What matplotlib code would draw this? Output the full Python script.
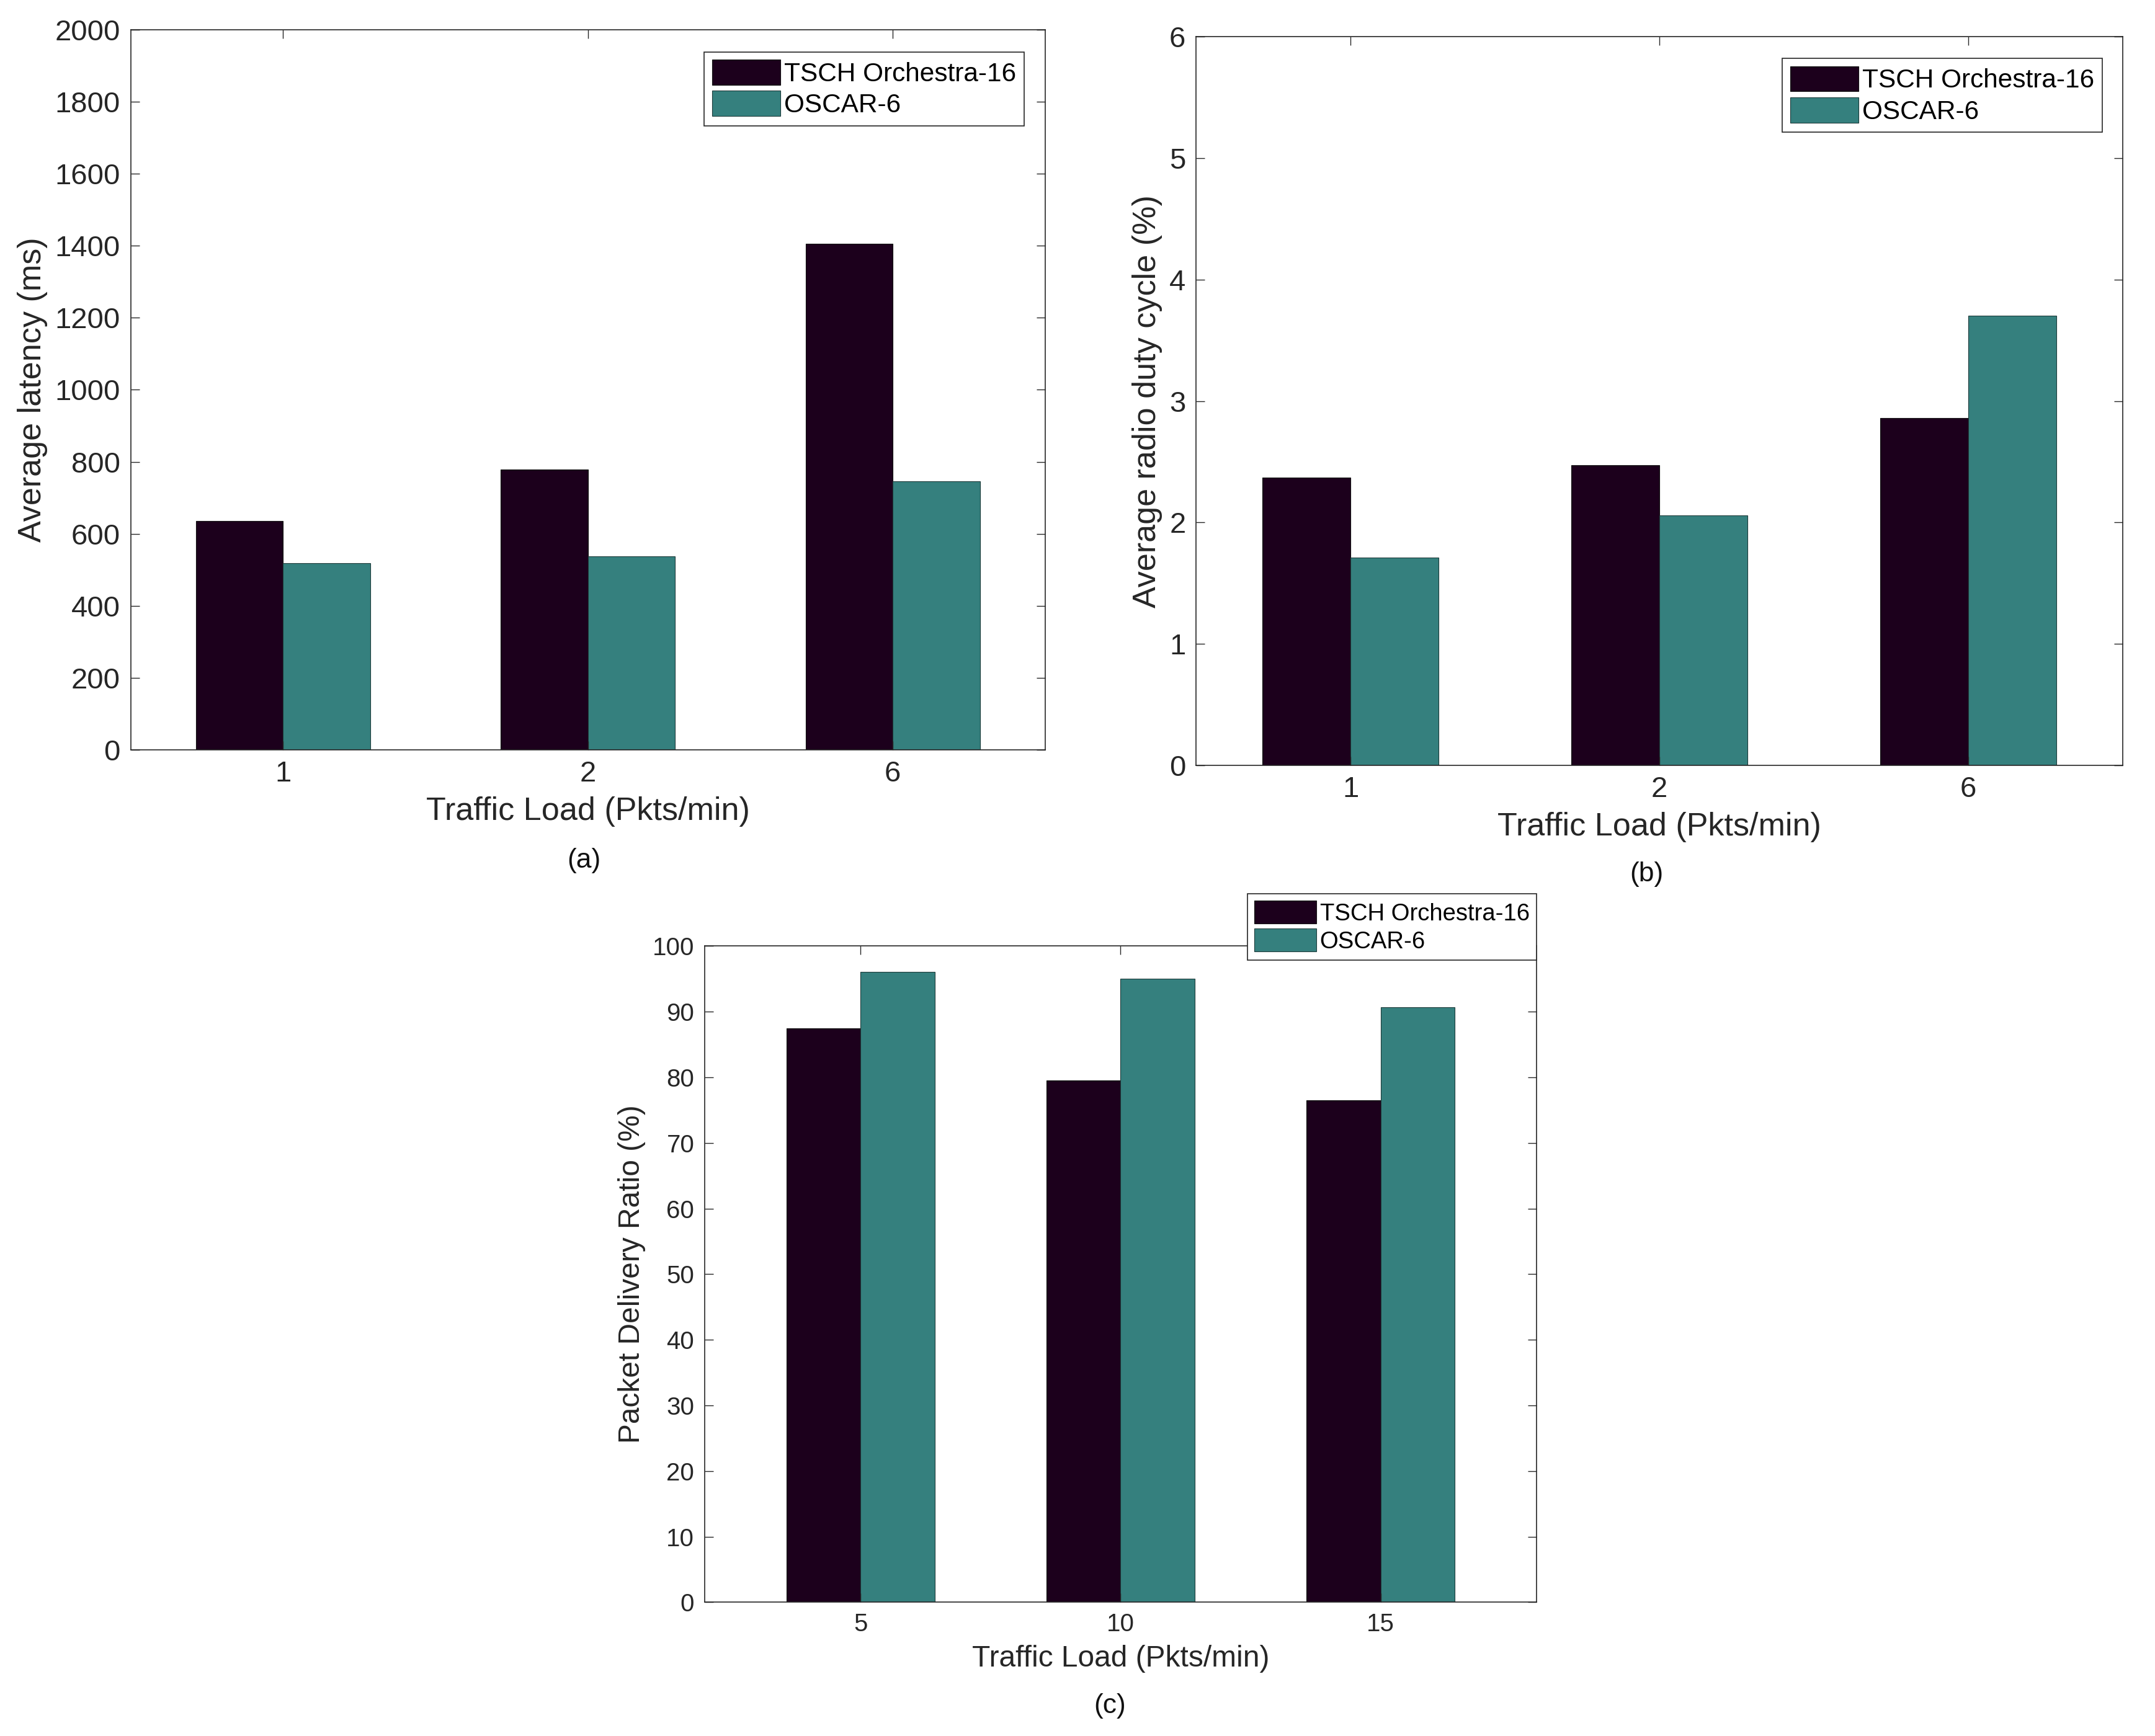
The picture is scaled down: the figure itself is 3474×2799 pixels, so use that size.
import numpy as np
import matplotlib.pyplot as plt

plt.rcParams['font.family'] = ['Liberation Sans', 'DejaVu Sans']

# datos
series = ["TSCH Orchestra-16", "OSCAR-6"]
colores = ["#1c001c", "#35807e"]

cargaAB = ["1", "2", "6"]
latenciaTSCH = [635, 778, 1405]
latenciaOSCAR = [518, 537, 745]

cicloTSCH = [2.37, 2.47, 2.86]
cicloOSCAR = [1.71, 2.06, 3.70]

cargaC = ["5", "10", "15"]
pdrTSCH = [87.5, 79.5, 76.5]
pdrOSCAR = [96.1, 95.0, 90.7]

gris = "#262626"


def barras(ax, etiquetas, v1, v2, xlim, ylim, yticks, ylabel, fs_tick, fs_lab, fs_leg, leg_anchor):
    x = np.arange(1, len(etiquetas) + 1)
    w = 0.2857
    ax.bar(x - w / 2, v1, w, color=colores[0], edgecolor="#111111", linewidth=0.8, label=series[0])
    ax.bar(x + w / 2, v2, w, color=colores[1], edgecolor="#1e3b3a", linewidth=0.8, label=series[1])
    ax.set_xlim(*xlim)
    ax.set_ylim(*ylim)
    ax.set_xticks(x)
    ax.set_xticklabels(etiquetas)
    ax.set_yticks(yticks)
    ax.tick_params(direction="in", length=10, width=1, top=True, right=True,
                   labelsize=fs_tick, colors=gris, pad=12)
    for s in ax.spines.values():
        s.set_color(gris)
        s.set_linewidth(1.2)
    ax.set_ylabel(ylabel, fontsize=fs_lab, color=gris, labelpad=8)
    ax.set_xlabel("Traffic Load (Pkts/min)", fontsize=fs_lab, color=gris, labelpad=10)
    leg = ax.legend(loc="upper right", bbox_to_anchor=leg_anchor, fontsize=fs_leg,
                    fancybox=False, framealpha=1, edgecolor=gris, borderpad=0.3,
                    handlelength=2.6, handleheight=1.1, handletextpad=0.15,
                    labelspacing=0.15, borderaxespad=0)
    leg.get_frame().set_linewidth(1.2)
    return ax


fig = plt.figure(figsize=(34.74, 27.99), dpi=100)

axA = fig.add_axes([0.0606, 0.568, 0.4244, 0.415])
barras(axA, cargaAB, latenciaTSCH, latenciaOSCAR, (0.5, 3.5), (0, 2000), np.arange(0, 2001, 200),
       "Average latency (ms)", 34, 37.5, 30.5, (0.977, 0.969))

axB = fig.add_axes([0.555, 0.559, 0.430, 0.420])
barras(axB, cargaAB, cicloTSCH, cicloOSCAR, (0.5, 3.5), (0, 6), np.arange(0, 7, 1),
       "Average radio duty cycle (%)", 34, 37.5, 30.5, (0.978, 0.970))

axC = fig.add_axes([0.327, 0.077, 0.386, 0.378])
barras(axC, cargaC, pdrTSCH, pdrOSCAR, (0.4, 3.6), (0, 100), np.arange(0, 101, 10),
       "Packet Delivery Ratio (%)", 29, 34.5, 27.5, (1.0, 1.08))

fig.text(0.271, 1 - 626 / 1263, "(a)", ha="center", va="center", fontsize=32, color="#111111")
fig.text(0.764, 1 - 636 / 1263, "(b)", ha="center", va="center", fontsize=32, color="#111111")
fig.text(0.515, 1 - 1241 / 1263, "(c)", ha="center", va="center", fontsize=32, color="#111111")

fig.savefig("out.png", dpi=100, facecolor="white")
